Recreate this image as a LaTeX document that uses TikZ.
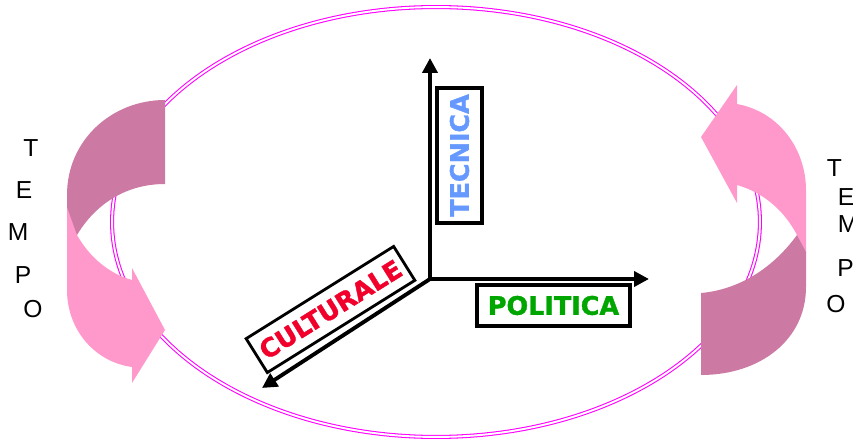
\documentclass[tikz,border=0pt]{standalone}
\usepackage{fontspec}
\setmainfont{Liberation Sans}
\newfontfamily\boxfont{DejaVu Sans}[BoldFeatures={FakeBold=1.5}]
\usetikzlibrary{arrows.meta,positioning}
\definecolor{ringMagenta}{HTML}{FF00FF}
\definecolor{arrowDark}{HTML}{CC79A3}
\definecolor{arrowLight}{HTML}{FF99CC}
\definecolor{txtBlue}{HTML}{6699FF}
\definecolor{txtGreen}{HTML}{00A600}
\definecolor{txtRed}{HTML}{F0002A}
\tikzset{
  asse/.style={-{Triangle[length=3mm,width=3mm]}, line width=2.2pt},
  etichetta/.style={draw=black, line width=2.2pt, inner sep=0pt, font=\boxfont\bfseries\fontsize{14.5}{14.5}\selectfont, text=#1},
  lettera/.style={font=\fontsize{14}{14}\selectfont, inner sep=0pt},
  anello/.style={draw=ringMagenta, line width=0.6pt, double=white, double distance=1.1pt},
}

\begin{document}
\begin{tikzpicture}[x=0.02cm, y=-0.02cm]
\useasboundingbox (0,0) rectangle (853,439);

% anello esterno
\draw[anello] (436,222) ellipse [x radius=6.48cm, y radius=4.3cm];

% freccia curva sinistra
\fill[arrowLight] (67,200) -- (67,290) .. controls (67,330) and (95,362) .. (132,367) -- (132,383) -- (165,330) -- (132,268) -- (132,280) .. controls (110,274) and (90,258) .. (77,235) -- cycle;
\fill[arrowDark] (165,100) .. controls (112,100) and (67,140) .. (67,195) -- (67,207) -- (77,235) .. controls (95,205) and (125,184) .. (165,184) -- cycle;

% freccia curva destra
\fill[arrowLight] (806,253) -- (806,190) .. controls (806,150) and (780,112) .. (737,104) -- (737,85) -- (701,137) -- (737,203) -- (737,185) .. controls (765,193) and (785,212) .. (797,235) -- cycle;
\fill[arrowDark] (806,252) -- (806,287) .. controls (806,340) and (760,375) .. (701,375) -- (701,293) .. controls (735,290) and (770,272) .. (797,235) -- cycle;

% assi
\coordinate (o) at (430,279);
\coordinate (assetec) at (430,58);
\coordinate (assepol) at (649,279);
\coordinate (assecul) at (262,388);
\draw[asse] (o) -- (assetec);
\draw[asse] (o) -- (assepol);
\draw[asse] (o) -- (assecul);

% etichette
\node[etichetta=txtBlue, rotate=90, minimum width=2.7cm, minimum height=0.9cm] (tecnica) at (459.5,155.5) {TECNICA};
\node[etichetta=txtGreen, minimum width=3.06cm, minimum height=0.82cm] (politica) at (553.5,305.5) {POLITICA};
\node[etichetta=txtRed, line width=1.6pt, rotate=32, minimum width=3.48cm, minimum height=0.8cm] (culturale) at (330.5,309.5) {CULTURALE};

% TEMPO
\foreach \l/\x/\y in {T/31/148, E/24/190, M/18/232, P/23/275, O/33/309}
  \node[lettera] (sx\l) at (\x,\y) {\l};
\foreach \l/\x/\y in {T/834.5/168, E/846/197, M/848/224, P/845.5/268, O/836/304.5}
  \node[lettera] (dx\l) at (\x,\y) {\l};
\end{tikzpicture}
\end{document}
